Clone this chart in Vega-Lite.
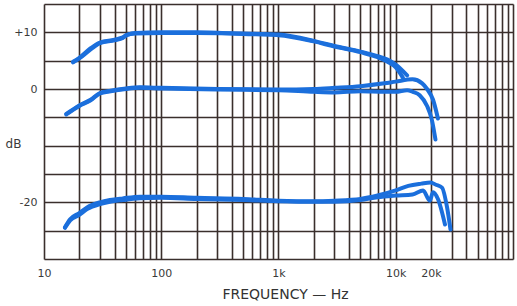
{
  "$schema": "https://vega.github.io/schema/vega-lite/v6.json",
  "width": 469,
  "height": 255,
  "autosize": {"type": "none"},
  "padding": {"left": 44, "top": 4, "right": 4, "bottom": 47},
  "background": "white",
  "config": {
    "view": {"stroke": null},
    "font": "DejaVu Sans"
  },
  "data": {
    "values": [
      {"curve": "topA", "freq": 17.7, "db": 4.7},
      {"curve": "topA", "freq": 20, "db": 5.4},
      {"curve": "topA", "freq": 25, "db": 7.0},
      {"curve": "topA", "freq": 30, "db": 8.1},
      {"curve": "topA", "freq": 40, "db": 8.6},
      {"curve": "topA", "freq": 47, "db": 9.0},
      {"curve": "topA", "freq": 50, "db": 9.5},
      {"curve": "topA", "freq": 60, "db": 9.8},
      {"curve": "topA", "freq": 100, "db": 9.9},
      {"curve": "topA", "freq": 200, "db": 9.9},
      {"curve": "topA", "freq": 500, "db": 9.8},
      {"curve": "topA", "freq": 1000, "db": 9.6},
      {"curve": "topA", "freq": 2000, "db": 8.5},
      {"curve": "topA", "freq": 3000, "db": 7.6},
      {"curve": "topA", "freq": 5000, "db": 6.6},
      {"curve": "topA", "freq": 7000, "db": 5.8},
      {"curve": "topA", "freq": 8500, "db": 5.2},
      {"curve": "topA", "freq": 10000, "db": 4.3},
      {"curve": "topA", "freq": 12500, "db": 2.4},
      {"curve": "topB", "freq": 17.7, "db": 4.8},
      {"curve": "topB", "freq": 20, "db": 5.5},
      {"curve": "topB", "freq": 25, "db": 7.2},
      {"curve": "topB", "freq": 30, "db": 8.2},
      {"curve": "topB", "freq": 40, "db": 8.7},
      {"curve": "topB", "freq": 47, "db": 9.1},
      {"curve": "topB", "freq": 52, "db": 9.6},
      {"curve": "topB", "freq": 60, "db": 9.9},
      {"curve": "topB", "freq": 100, "db": 10.0},
      {"curve": "topB", "freq": 200, "db": 10.0},
      {"curve": "topB", "freq": 500, "db": 9.7},
      {"curve": "topB", "freq": 1000, "db": 9.5},
      {"curve": "topB", "freq": 2000, "db": 8.4},
      {"curve": "topB", "freq": 3000, "db": 7.5},
      {"curve": "topB", "freq": 5000, "db": 6.5},
      {"curve": "topB", "freq": 7000, "db": 5.6},
      {"curve": "topB", "freq": 8500, "db": 4.8},
      {"curve": "topB", "freq": 10000, "db": 3.8},
      {"curve": "topB", "freq": 11500, "db": 2.0},
      {"curve": "midA", "freq": 15.5, "db": -4.4},
      {"curve": "midA", "freq": 20, "db": -2.9},
      {"curve": "midA", "freq": 25, "db": -1.9},
      {"curve": "midA", "freq": 30, "db": -0.7},
      {"curve": "midA", "freq": 37, "db": -0.3},
      {"curve": "midA", "freq": 50, "db": 0.1},
      {"curve": "midA", "freq": 66, "db": 0.3},
      {"curve": "midA", "freq": 100, "db": 0.2},
      {"curve": "midA", "freq": 300, "db": 0.0},
      {"curve": "midA", "freq": 1000, "db": -0.1},
      {"curve": "midA", "freq": 2000, "db": 0.0},
      {"curve": "midA", "freq": 3000, "db": 0.2},
      {"curve": "midA", "freq": 5000, "db": 0.5},
      {"curve": "midA", "freq": 8000, "db": 1.0},
      {"curve": "midA", "freq": 10000, "db": 1.3},
      {"curve": "midA", "freq": 13900, "db": 1.7},
      {"curve": "midA", "freq": 16800, "db": 1.0},
      {"curve": "midA", "freq": 18500, "db": 0.0},
      {"curve": "midA", "freq": 20800, "db": -1.9},
      {"curve": "midA", "freq": 22900, "db": -5.2},
      {"curve": "midB", "freq": 15.5, "db": -4.5},
      {"curve": "midB", "freq": 20, "db": -3.0},
      {"curve": "midB", "freq": 25, "db": -2.0},
      {"curve": "midB", "freq": 30, "db": -0.8},
      {"curve": "midB", "freq": 37, "db": -0.4},
      {"curve": "midB", "freq": 50, "db": 0.0},
      {"curve": "midB", "freq": 66, "db": 0.2},
      {"curve": "midB", "freq": 100, "db": 0.1},
      {"curve": "midB", "freq": 300, "db": -0.1},
      {"curve": "midB", "freq": 1000, "db": -0.2},
      {"curve": "midB", "freq": 2000, "db": -0.5},
      {"curve": "midB", "freq": 3000, "db": -0.6},
      {"curve": "midB", "freq": 5000, "db": -0.4},
      {"curve": "midB", "freq": 8000, "db": -0.5},
      {"curve": "midB", "freq": 10000, "db": -0.5},
      {"curve": "midB", "freq": 12500, "db": -0.2},
      {"curve": "midB", "freq": 14000, "db": -0.5},
      {"curve": "midB", "freq": 16000, "db": -1.1},
      {"curve": "midB", "freq": 18500, "db": -3.0},
      {"curve": "midB", "freq": 20300, "db": -5.4},
      {"curve": "midB", "freq": 21800, "db": -8.9},
      {"curve": "botA", "freq": 15.1, "db": -24.4},
      {"curve": "botA", "freq": 16.7, "db": -23.0},
      {"curve": "botA", "freq": 20, "db": -21.9},
      {"curve": "botA", "freq": 23.3, "db": -20.9},
      {"curve": "botA", "freq": 30, "db": -20.0},
      {"curve": "botA", "freq": 36.5, "db": -19.6},
      {"curve": "botA", "freq": 47, "db": -19.3},
      {"curve": "botA", "freq": 66, "db": -19.0},
      {"curve": "botA", "freq": 100, "db": -19.0},
      {"curve": "botA", "freq": 200, "db": -19.2},
      {"curve": "botA", "freq": 500, "db": -19.4},
      {"curve": "botA", "freq": 1000, "db": -19.7},
      {"curve": "botA", "freq": 2000, "db": -19.8},
      {"curve": "botA", "freq": 3000, "db": -19.7},
      {"curve": "botA", "freq": 5000, "db": -19.4},
      {"curve": "botA", "freq": 7000, "db": -18.8},
      {"curve": "botA", "freq": 10000, "db": -17.9},
      {"curve": "botA", "freq": 12800, "db": -17.1},
      {"curve": "botA", "freq": 16500, "db": -16.7},
      {"curve": "botA", "freq": 19800, "db": -16.5},
      {"curve": "botA", "freq": 22000, "db": -16.9},
      {"curve": "botA", "freq": 24800, "db": -17.4},
      {"curve": "botA", "freq": 27400, "db": -20.9},
      {"curve": "botA", "freq": 29300, "db": -24.8},
      {"curve": "botB", "freq": 15.1, "db": -24.5},
      {"curve": "botB", "freq": 16.7, "db": -23.2},
      {"curve": "botB", "freq": 20, "db": -22.2},
      {"curve": "botB", "freq": 23.3, "db": -21.2},
      {"curve": "botB", "freq": 30, "db": -20.3},
      {"curve": "botB", "freq": 36.5, "db": -19.9},
      {"curve": "botB", "freq": 47, "db": -19.6},
      {"curve": "botB", "freq": 66, "db": -19.3},
      {"curve": "botB", "freq": 100, "db": -19.2},
      {"curve": "botB", "freq": 200, "db": -19.4},
      {"curve": "botB", "freq": 500, "db": -19.6},
      {"curve": "botB", "freq": 1000, "db": -19.8},
      {"curve": "botB", "freq": 2000, "db": -19.9},
      {"curve": "botB", "freq": 3000, "db": -19.9},
      {"curve": "botB", "freq": 5000, "db": -19.6},
      {"curve": "botB", "freq": 7000, "db": -19.1},
      {"curve": "botB", "freq": 10000, "db": -18.8},
      {"curve": "botB", "freq": 13900, "db": -18.6},
      {"curve": "botB", "freq": 17100, "db": -17.9},
      {"curve": "botB", "freq": 19500, "db": -19.7},
      {"curve": "botB", "freq": 20800, "db": -18.2},
      {"curve": "botB", "freq": 22900, "db": -19.4},
      {"curve": "botB", "freq": 26300, "db": -23.9}
    ]
  },
  "mark": {"type": "line", "color": "#1b6fdc", "strokeWidth": 4, "interpolate": "monotone", "strokeCap": "round", "strokeJoin": "round", "clip": true},
  "encoding": {
    "x": {
      "field": "freq",
      "type": "quantitative",
      "scale": {"type": "log", "domain": [10, 100000], "nice": false},
      "axis": {
        "values": [10, 20, 30, 40, 50, 60, 70, 80, 90, 100, 200, 300, 400, 500, 600, 700, 800, 900, 1000, 2000, 3000, 4000, 5000, 6000, 7000, 8000, 9000, 10000, 20000, 30000, 40000, 50000, 60000, 70000, 80000, 90000, 100000],
        "labelExpr": "datum.value == 10 ? '10' : datum.value == 100 ? '100' : datum.value == 1000 ? '1k' : datum.value == 10000 ? '10k' : datum.value == 20000 ? '20k' : ''",
        "grid": true,
        "gridColor": "#3a2f2c",
        "gridWidth": 1.6,
        "gridOpacity": 1,
        "domain": false,
        "ticks": false,
        "tickSize": 0,
        "labelPadding": 8,
        "labelDx": 3,
        "labelFontSize": 11,
        "labelColor": "#3a3a3a",
        "labelFlush": false,
        "labelOverlap": false,
        "title": "FREQUENCY — Hz",
        "titleFontSize": 14,
        "titleFontWeight": "normal",
        "titleColor": "#333333",
        "titlePadding": 9,
        "titleX": 241,
        "titleAlign": "center"
      }
    },
    "y": {
      "field": "db",
      "type": "quantitative",
      "scale": {"domain": [-30, 15], "nice": false, "zero": false},
      "axis": {
        "values": [-30, -25, -20, -15, -10, -5, 0, 5, 10, 15],
        "labelExpr": "datum.value == 10 ? '+10' : datum.value == 0 ? '0' : datum.value == -20 ? '-20' : ''",
        "grid": true,
        "gridColor": "#3a2f2c",
        "gridWidth": 1.6,
        "gridOpacity": 1,
        "domain": false,
        "ticks": false,
        "tickSize": 0,
        "labelPadding": 7,
        "labelFontSize": 11,
        "labelColor": "#3a3a3a",
        "labelFlush": false,
        "labelOverlap": false,
        "title": "dB",
        "titleAngle": 0,
        "titleFontSize": 12,
        "titleFontWeight": "normal",
        "titleColor": "#3a3a3a",
        "titleX": -31,
        "titleY": 139,
        "titleAlign": "center",
        "titleBaseline": "middle"
      }
    },
    "detail": {"field": "curve"}
  }
}
